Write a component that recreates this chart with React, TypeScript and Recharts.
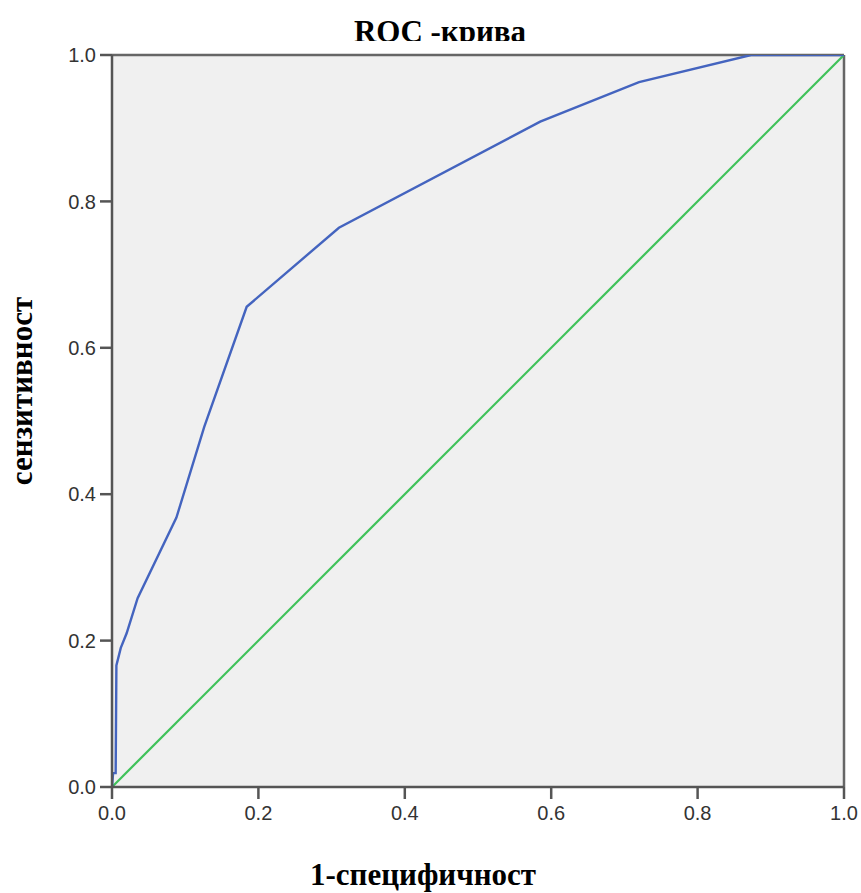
import React from "react";
import { LineChart, Line, XAxis, YAxis, CartesianGrid, ReferenceLine } from "recharts";

const rocX = [0, 0.0015, 0.005, 0.006, 0.012, 0.02, 0.035, 0.088, 0.126, 0.184, 0.31, 0.585, 0.72, 0.873, 1];
const rocY = [0, 0.019, 0.019, 0.166, 0.19, 0.21, 0.258, 0.368, 0.492, 0.656, 0.764, 0.909, 0.963, 1, 1];
const refX = [0, 1];
const refY = [0, 1];
const ticks = [0, 0.2, 0.4, 0.6, 0.8, 1];

const title = "ROC -крива";
const xLabel = "1-специфичност";
const yLabel = "сензитивност";

const rocData = rocX.map((x, i) => ({ x, y: rocY[i] }));
const refData = refX.map((x, i) => ({ x, y: refY[i] }));

const axisColor = "#555555";
const tickStyle = { fontFamily: "'Liberation Sans', Arial, sans-serif", fontSize: 20, fill: "#333333" };
const serif = "'Liberation Serif', 'Times New Roman', serif";

export default function App() {
  return (
    <div style={{ position: "absolute", left: 0, top: 0, width: 861, height: 893, background: "#ffffff" }}>
      <LineChart width={861} height={893} margin={{ top: 55, right: 17, bottom: 0, left: 0 }}>
        <CartesianGrid fill="#f0f0f0" horizontal={false} vertical={false} />
        <XAxis
          type="number"
          dataKey="x"
          domain={[0, 1]}
          ticks={ticks}
          tickFormatter={(v: number) => v.toFixed(1)}
          height={106}
          axisLine={{ stroke: axisColor, strokeWidth: 2.5 }}
          tickLine={{ stroke: axisColor, strokeWidth: 2.5 }}
          tickSize={12}
          tickMargin={7}
          tick={tickStyle}
          interval={0}
          allowDataOverflow
        />
        <YAxis
          type="number"
          dataKey="y"
          domain={[0, 1]}
          ticks={ticks}
          tickFormatter={(v: number) => v.toFixed(1)}
          width={112}
          axisLine={{ stroke: axisColor, strokeWidth: 2.5 }}
          tickLine={{ stroke: axisColor, strokeWidth: 2.5 }}
          tickSize={12}
          tickMargin={4}
          tick={tickStyle}
          interval={0}
          allowDataOverflow
        />
        <ReferenceLine y={1} stroke="#666666" strokeWidth={2.5} />
        <ReferenceLine x={1} stroke="#666666" strokeWidth={2.5} />
        <Line
          data={refData}
          dataKey="y"
          type="linear"
          stroke="#3fc25a"
          strokeWidth={2.2}
          dot={false}
          activeDot={false}
          isAnimationActive={false}
        />
        <Line
          data={rocData}
          dataKey="y"
          type="linear"
          stroke="#4464bf"
          strokeWidth={2.4}
          dot={false}
          activeDot={false}
          isAnimationActive={false}
        />
      </LineChart>
      <svg width={861} height={893} style={{ position: "absolute", left: 0, top: 0, pointerEvents: "none" }}>
        <defs>
          <clipPath id="titleClip">
            <rect x={0} y={0} width={861} height={41} />
          </clipPath>
        </defs>
        <text
          x={440}
          y={42}
          textAnchor="middle"
          fontFamily={serif}
          fontWeight="bold"
          fontSize={31}
          fill="#000"
          clipPath="url(#titleClip)"
        >
          {title}
        </text>
        <text x={423} y={885} textAnchor="middle" fontFamily={serif} fontWeight="bold" fontSize={31} fill="#000">
          {xLabel}
        </text>
        <text
          x={0}
          y={0}
          transform="translate(32,391) rotate(-90)"
          textAnchor="middle"
          fontFamily={serif}
          fontWeight="bold"
          fontSize={31}
          fill="#000"
        >
          {yLabel}
        </text>
      </svg>
    </div>
  );
}
